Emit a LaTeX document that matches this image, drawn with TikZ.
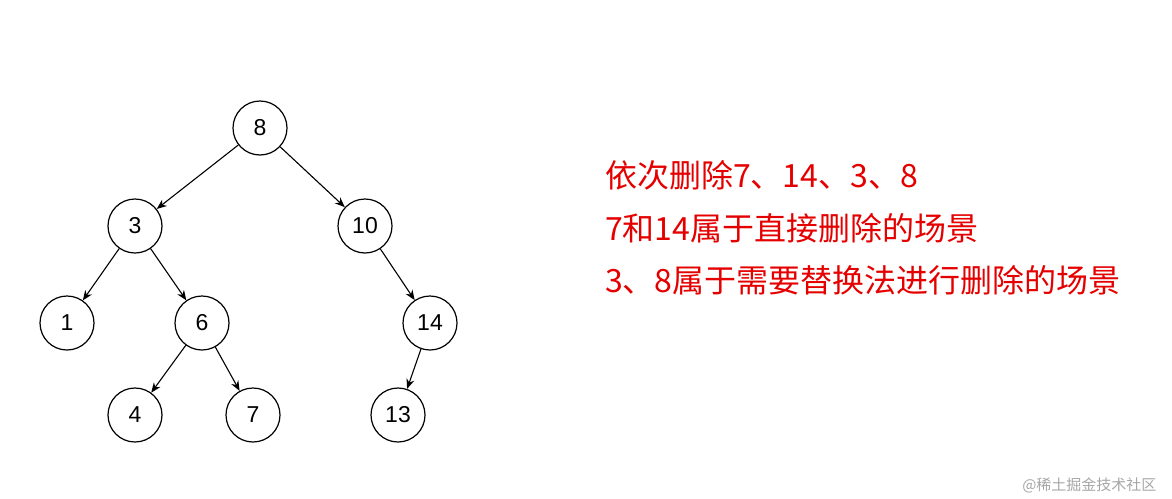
\documentclass[tikz,border=0pt]{standalone}
\usepackage{fontspec}
\setmainfont{Liberation Sans}
\newfontfamily\cjk{Noto Sans CJK SC}
\usetikzlibrary{arrows.meta}
\begin{document}
\begin{tikzpicture}[x=1pt,y=-1pt,
  tn/.style={circle,draw,line width=1.2pt,minimum size=54pt,inner sep=0pt,font=\fontsize{23}{26}\selectfont},
  ed/.style={-{Stealth[length=10pt,width=8pt]},line width=1.1pt},
  rt/.style={anchor=west,inner sep=0pt,text=red!90!black,font=\cjk\fontsize{32}{36}\selectfont}]
\useasboundingbox (0,0) rectangle (1172,498);
\node[tn] (n8) at (260,128) {8};
\node[tn] (n3) at (135,226) {3};
\node[tn] (n10) at (365,226) {10};
\node[tn] (n1) at (67,323) {1};
\node[tn] (n6) at (202,323) {6};
\node[tn] (n14) at (430,323) {14};
\node[tn] (n4) at (135,415) {4};
\node[tn] (n7) at (253,415) {7};
\node[tn] (n13) at (398,415) {13};
\draw[ed] (n8) -- (n3);
\draw[ed] (n8) -- (n10);
\draw[ed] (n3) -- (n1);
\draw[ed] (n3) -- (n6);
\draw[ed] (n10) -- (n14);
\draw[ed] (n6) -- (n4);
\draw[ed] (n6) -- (n7);
\draw[ed] (n14) -- (n13);
\node[rt] (t1) at (605,175) {依次删除7、14、3、8};
\node[rt] (t2) at (605,228) {7和14属于直接删除的场景};
\node[rt] (t3) at (605,280) {3、8属于需要替换法进行删除的场景};
\node[anchor=east,text=gray!70,font=\cjk\fontsize{15}{18}\selectfont] (wm) at (1160,485) {@稀土掘金技术社区};
\end{tikzpicture}
\end{document}
